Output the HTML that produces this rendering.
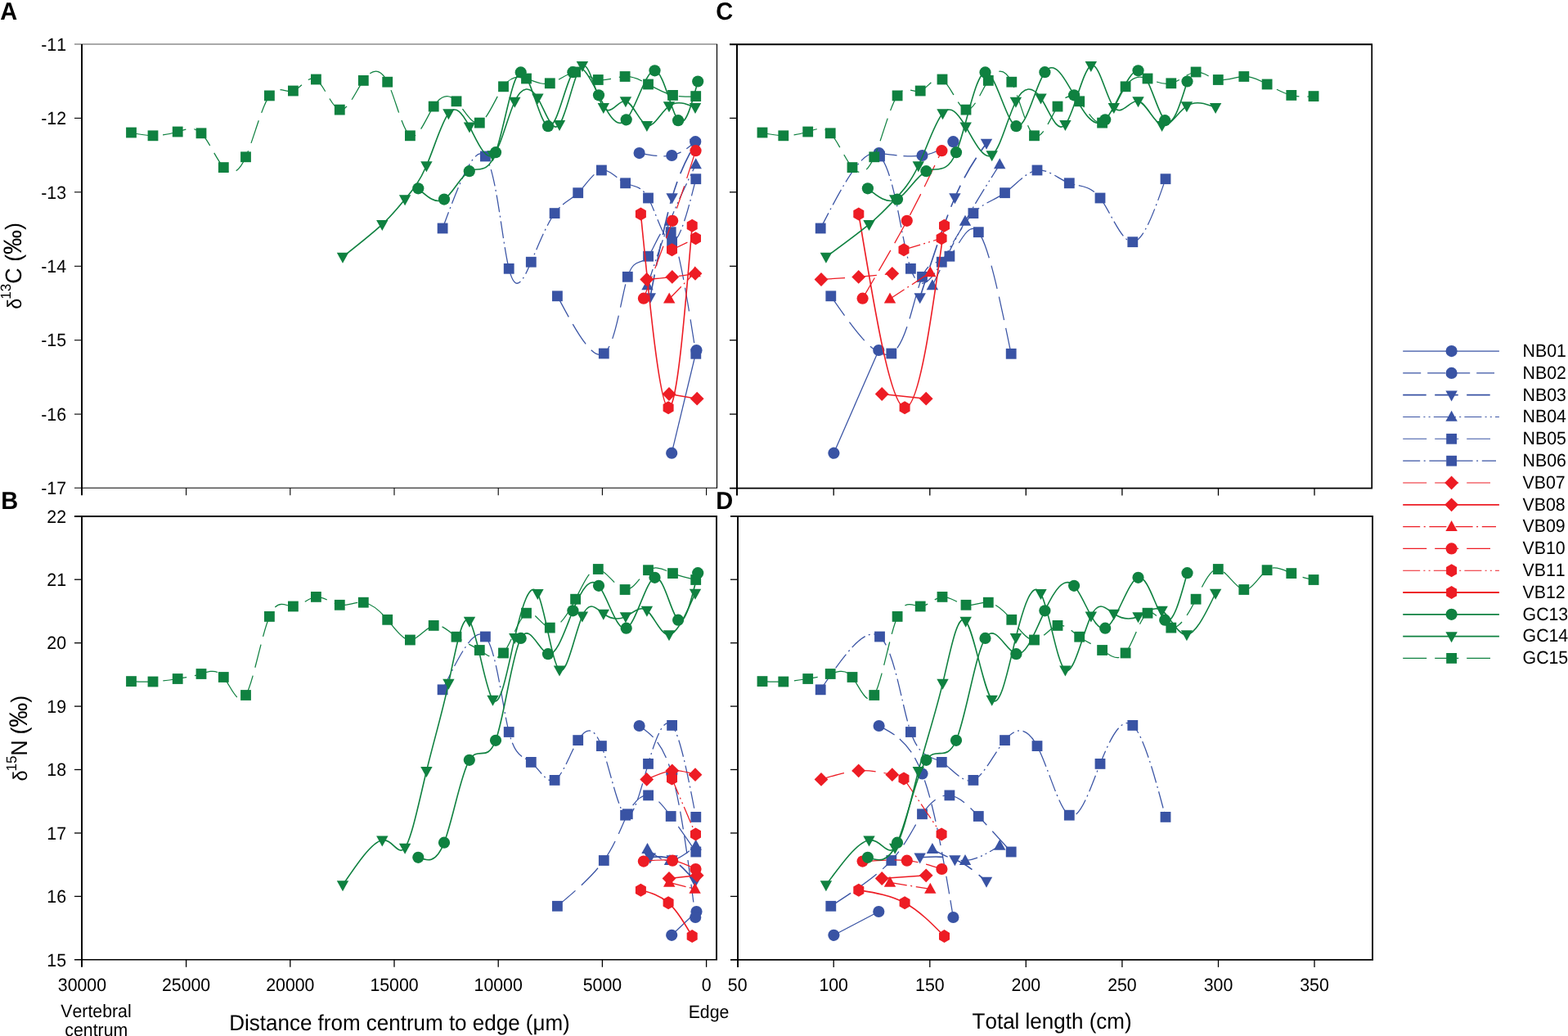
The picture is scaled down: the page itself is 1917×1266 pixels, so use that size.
<!DOCTYPE html>
<html lang="en"><head><meta charset="utf-8"><title>Isotope profiles</title>
<style>html,body{margin:0;padding:0;background:#fff}body{width:1917px;height:1266px;overflow:hidden}svg{display:block}</style></head>
<body>
<svg width="1917" height="1266" viewBox="0 0 1917 1266" font-family='"Liberation Sans", Arial, Helvetica, sans-serif' style="font-kerning:none" text-rendering="geometricPrecision">
<rect width="1917" height="1266" fill="#fff"/>
<g>
<path d="M821.2 553.7L851.5 428" fill="none" stroke="#3953a4" stroke-width="1.25"/>
<g fill="#3953a4"><circle cx="821.2" cy="553.7" r="7.1"/><circle cx="851.5" cy="428" r="7.1"/></g>
<path d="M781.6 187.1C795.7 189.7 809.9 192.3 821.3 190C832.7 187.7 841.5 180.4 850.2 173.2" fill="none" stroke="#3953a4" stroke-width="1.25" stroke-dasharray="22 8"/>
<g fill="#3953a4"><circle cx="781.6" cy="187.1" r="7.1"/><circle cx="821.3" cy="190" r="7.1"/><circle cx="850.2" cy="173.2" r="7.1"/></g>
<path d="M794.8 363.5C803.6 318.2 812.4 272.9 821.6 241.5C830.8 210.1 840.4 192.5 850 175" fill="none" stroke="#3953a4" stroke-width="1.6" stroke-dasharray="28.5 10.5"/>
<g fill="#3953a4"><path d="M787.6 358.2L802 358.2L794.8 371.2Z"/><path d="M814.4 236.2L828.8 236.2L821.6 249.2Z"/><path d="M842.8 169.7L857.2 169.7L850 182.7Z"/></g>
<path d="M791.5 349C800.3 322.1 809.1 295.2 819 270.5C828.9 245.8 839.8 223.4 850.7 201" fill="none" stroke="#3953a4" stroke-width="1.25" stroke-dasharray="21 4.2 2 4.2 2 4.2"/>
<g fill="#3953a4"><path d="M784.3 354.3L798.7 354.3L791.5 341.3Z"/><path d="M811.8 275.8L826.2 275.8L819 262.8Z"/><path d="M843.5 206.3L857.9 206.3L850.7 193.3Z"/></g>
<path d="M681.4 361.8C702.8 401.8 724.1 441.8 738.3 432C752.5 422.2 759.5 362.7 767.3 338.3C775.1 313.9 783.8 324.8 792.6 313.2C801.4 301.6 810.5 267.6 820.2 283.7C829.9 299.8 840.4 366.1 850.8 432.3" fill="none" stroke="#3953a4" stroke-width="1.25" stroke-dasharray="29 10"/>
<g fill="#3953a4"><rect x="675" y="355.4" width="12.8" height="12.8"/><rect x="731.9" y="425.6" width="12.8" height="12.8"/><rect x="760.9" y="331.9" width="12.8" height="12.8"/><rect x="786.2" y="306.8" width="12.8" height="12.8"/><rect x="813.8" y="277.3" width="12.8" height="12.8"/><rect x="844.4" y="425.9" width="12.8" height="12.8"/></g>
<path d="M541.1 279C560.6 226.5 580.1 173.9 593.4 191C606.7 208.1 613.9 294.8 622.2 328.3C630.5 361.8 639.8 342.2 649.3 320.2C658.8 298.2 668.5 273.9 678.1 260.6C687.7 247.3 697.2 245.1 706.7 235.7C716.2 226.3 725.7 209.8 735.4 208C745.1 206.2 755.1 219.1 764.6 223.8C774.1 228.5 783.1 225.1 792.5 242C801.9 258.9 811.8 296.2 821.6 295.7C831.4 295.2 841.1 257 850.8 218.7" fill="none" stroke="#3953a4" stroke-width="1.25" stroke-dasharray="21 4.5 2 4.7"/>
<g fill="#3953a4"><rect x="534.7" y="272.6" width="12.8" height="12.8"/><rect x="587" y="184.6" width="12.8" height="12.8"/><rect x="615.8" y="321.9" width="12.8" height="12.8"/><rect x="642.9" y="313.8" width="12.8" height="12.8"/><rect x="671.7" y="254.2" width="12.8" height="12.8"/><rect x="700.3" y="229.3" width="12.8" height="12.8"/><rect x="729" y="201.6" width="12.8" height="12.8"/><rect x="758.2" y="217.4" width="12.8" height="12.8"/><rect x="786.1" y="235.6" width="12.8" height="12.8"/><rect x="815.2" y="289.3" width="12.8" height="12.8"/><rect x="844.4" y="212.3" width="12.8" height="12.8"/></g>
<path d="M790.7 341.5C801.3 340.6 811.9 339.6 821.8 338.4C831.7 337.2 840.8 335.8 850 334.3" fill="none" stroke="#ed1c24" stroke-width="1.25" stroke-dasharray="29 10"/>
<g fill="#ed1c24"><path d="M790.7 333.1L799.1 341.5L790.7 349.9L782.3 341.5Z"/><path d="M821.8 330L830.2 338.4L821.8 346.8L813.4 338.4Z"/><path d="M850 325.9L858.4 334.3L850 342.7L841.6 334.3Z"/></g>
<path d="M818 481.5L852.2 487.2" fill="none" stroke="#ed1c24" stroke-width="1.6"/>
<g fill="#ed1c24"><path d="M818 473.1L826.4 481.5L818 489.9L809.6 481.5Z"/><path d="M852.2 478.8L860.6 487.2L852.2 495.6L843.8 487.2Z"/></g>
<path d="M818.2 365.3L849.6 333" fill="none" stroke="#ed1c24" stroke-width="1.25" stroke-dasharray="21 4.5 2 4.7"/>
<g fill="#ed1c24"><path d="M811 370.6L825.4 370.6L818.2 357.6Z"/><path d="M842.4 338.3L856.8 338.3L849.6 325.3Z"/></g>
<path d="M786.9 364.7C799.2 332.3 811.6 299.9 822.2 269.8C832.8 239.7 841.6 212 850.5 184.2" fill="none" stroke="#ed1c24" stroke-width="1.25" stroke-dasharray="29 10"/>
<g fill="#ed1c24"><circle cx="786.9" cy="364.7" r="7.1"/><circle cx="822.2" cy="269.8" r="7.1"/><circle cx="850.5" cy="184.2" r="7.1"/></g>
<path d="M821.5 305.2L850.5 291.2" fill="none" stroke="#ed1c24" stroke-width="1.25" stroke-dasharray="21 4.2 2 4.2 2 4.2"/>
<g fill="#ed1c24"><path d="M821.5 297.2L828 301L828 309.4L821.5 313.2L815 309.4L815 301Z"/><path d="M850.5 283.2L857 287L857 295.4L850.5 299.2L844 295.4L844 287Z"/></g>
<path d="M783.4 261.5C795 378.7 806.6 495.9 817.1 498.3C827.6 500.7 836.9 388.2 846.2 275.8" fill="none" stroke="#ed1c24" stroke-width="1.6"/>
<g fill="#ed1c24"><path d="M783.4 253.5L789.9 257.3L789.9 265.7L783.4 269.5L776.9 265.7L776.9 257.3Z"/><path d="M817.1 490.3L823.6 494.1L823.6 502.5L817.1 506.3L810.6 502.5L810.6 494.1Z"/><path d="M846.2 267.8L852.7 271.6L852.7 280L846.2 283.8L839.7 280L839.7 271.6Z"/></g>
<path d="M511.3 230.3C522 240.1 532.7 249.9 543 243.6C553.3 237.3 563.2 214.9 573.8 209.2C584.4 203.5 595.6 214.5 606 186.2C616.4 157.9 626 90.5 636.7 88.4C647.4 86.3 659.3 149.7 670 154.2C680.7 158.7 690.3 104.3 700.4 88.2C710.5 72.1 721.1 94.5 732 116.3C742.9 138.1 754 159.5 765.7 146.3C777.4 133.1 789.7 85.4 800.5 86.3C811.3 87.2 820.6 136.9 829.1 147.2C837.6 157.5 845.4 128.5 853.2 99.5" fill="none" stroke="#0f8140" stroke-width="1.6"/>
<g fill="#0f8140"><circle cx="511.3" cy="230.3" r="7.1"/><circle cx="543" cy="243.6" r="7.1"/><circle cx="573.8" cy="209.2" r="7.1"/><circle cx="606" cy="186.2" r="7.1"/><circle cx="636.7" cy="88.4" r="7.1"/><circle cx="670" cy="154.2" r="7.1"/><circle cx="700.4" cy="88.2" r="7.1"/><circle cx="732" cy="116.3" r="7.1"/><circle cx="765.7" cy="146.3" r="7.1"/><circle cx="800.5" cy="86.3" r="7.1"/><circle cx="829.1" cy="147.2" r="7.1"/><circle cx="853.2" cy="99.5" r="7.1"/></g>
<path d="M419 314C436.9 299.9 454.8 285.9 467.3 274.2C479.8 262.5 487 253.2 495.1 243.5C503.2 233.8 512.3 223.5 521.4 202.5C530.5 181.5 539.8 149.6 548.4 138.6C557 127.6 564.9 137.4 574 154.7C583.1 172 593.2 196.6 602.5 189.5C611.8 182.4 620.2 143.4 629.3 124C638.4 104.6 648.3 104.8 657.4 119.8C666.5 134.8 674.9 164.6 684 152.2C693.1 139.8 702.9 85.3 711.9 80.2C720.9 75.1 729 119.6 737.8 131.2C746.6 142.8 756 121.7 764.9 123.6C773.8 125.5 782.3 150.3 790.9 153.2C799.5 156.1 808.1 136.9 818 129.6C827.9 122.3 838.9 126.7 850 131.2" fill="none" stroke="#0f8140" stroke-width="1.6"/>
<g fill="#0f8140"><path d="M411.8 308.7L426.2 308.7L419 321.7Z"/><path d="M460.1 268.9L474.5 268.9L467.3 281.9Z"/><path d="M487.9 238.2L502.3 238.2L495.1 251.2Z"/><path d="M514.2 197.2L528.6 197.2L521.4 210.2Z"/><path d="M541.2 133.3L555.6 133.3L548.4 146.3Z"/><path d="M566.8 149.4L581.2 149.4L574 162.4Z"/><path d="M595.3 184.2L609.7 184.2L602.5 197.2Z"/><path d="M622.1 118.7L636.5 118.7L629.3 131.7Z"/><path d="M650.2 114.5L664.6 114.5L657.4 127.5Z"/><path d="M676.8 146.9L691.2 146.9L684 159.9Z"/><path d="M704.7 74.9L719.1 74.9L711.9 87.9Z"/><path d="M730.6 125.9L745 125.9L737.8 138.9Z"/><path d="M757.7 118.3L772.1 118.3L764.9 131.3Z"/><path d="M783.7 147.9L798.1 147.9L790.9 160.9Z"/><path d="M810.8 124.3L825.2 124.3L818 137.3Z"/><path d="M842.8 125.9L857.2 125.9L850 138.9Z"/></g>
<path d="M160.5 162C169 163.9 177.5 165.8 187 165.8C196.5 165.8 207.2 164 217.2 161C227.2 158 236.7 153.7 246 162.8C255.3 171.9 264.3 194.4 273.3 204.6C282.3 214.8 291.2 212.7 300.5 191.8C309.8 170.9 319.6 131.1 329.4 116.9C339.2 102.7 349 113.9 358.4 111C367.8 108.1 377 91.1 386.4 97C395.8 102.9 405.6 131.8 415.3 134.1C425 136.4 434.5 112.1 444.3 98.4C454.1 84.7 464.2 81.5 473.7 100.2C483.2 118.9 492 159.4 501.4 165.8C510.8 172.2 520.7 144.6 530.2 130.1C539.7 115.6 548.8 114.3 558 123.8C567.2 133.3 576.6 153.6 586.3 150.1C596 146.6 605.9 119.2 615.5 105.8C625.1 92.4 634.3 93 643.5 96C652.7 99 662 104.3 672.3 101.8C682.6 99.3 694 88.9 703.6 88C713.2 87.1 721.2 95.8 731.3 97.5C741.4 99.2 753.7 93.8 764.1 93.5C774.5 93.2 783 97.8 792.5 103C802 108.2 812.6 113.9 822.5 116.4C832.4 118.9 841.5 118.3 850.7 117.6" fill="none" stroke="#0f8140" stroke-width="1.25" stroke-dasharray="29 10"/>
<g fill="#0f8140"><rect x="154.1" y="155.6" width="12.8" height="12.8"/><rect x="180.6" y="159.4" width="12.8" height="12.8"/><rect x="210.8" y="154.6" width="12.8" height="12.8"/><rect x="239.6" y="156.4" width="12.8" height="12.8"/><rect x="266.9" y="198.2" width="12.8" height="12.8"/><rect x="294.1" y="185.4" width="12.8" height="12.8"/><rect x="323" y="110.5" width="12.8" height="12.8"/><rect x="352" y="104.6" width="12.8" height="12.8"/><rect x="380" y="90.6" width="12.8" height="12.8"/><rect x="408.9" y="127.7" width="12.8" height="12.8"/><rect x="437.9" y="92" width="12.8" height="12.8"/><rect x="467.3" y="93.8" width="12.8" height="12.8"/><rect x="495" y="159.4" width="12.8" height="12.8"/><rect x="523.8" y="123.7" width="12.8" height="12.8"/><rect x="551.6" y="117.4" width="12.8" height="12.8"/><rect x="579.9" y="143.7" width="12.8" height="12.8"/><rect x="609.1" y="99.4" width="12.8" height="12.8"/><rect x="637.1" y="89.6" width="12.8" height="12.8"/><rect x="665.9" y="95.4" width="12.8" height="12.8"/><rect x="697.2" y="81.6" width="12.8" height="12.8"/><rect x="724.9" y="91.1" width="12.8" height="12.8"/><rect x="757.7" y="87.1" width="12.8" height="12.8"/><rect x="786.1" y="96.6" width="12.8" height="12.8"/><rect x="816.1" y="110" width="12.8" height="12.8"/><rect x="844.3" y="111.2" width="12.8" height="12.8"/></g>
</g>
<g>
<path d="M1019.4 553.7L1074.3 428" fill="none" stroke="#3953a4" stroke-width="1.25"/>
<g fill="#3953a4"><circle cx="1019.4" cy="553.7" r="7.1"/><circle cx="1074.3" cy="428" r="7.1"/></g>
<path d="M1074.6 187.1C1093.5 189.7 1112.4 192.3 1127.5 190C1142.6 187.7 1154 180.4 1165.4 173.2" fill="none" stroke="#3953a4" stroke-width="1.25" stroke-dasharray="22 8"/>
<g fill="#3953a4"><circle cx="1074.6" cy="187.1" r="7.1"/><circle cx="1127.5" cy="190" r="7.1"/><circle cx="1165.4" cy="173.2" r="7.1"/></g>
<path d="M1124.7 363.5C1139.3 318.2 1153.9 272.9 1167.4 241.5C1181 210.1 1193.5 192.5 1206 175" fill="none" stroke="#3953a4" stroke-width="1.6" stroke-dasharray="28.5 10.5"/>
<g fill="#3953a4"><path d="M1117.5 358.2L1131.9 358.2L1124.7 371.2Z"/><path d="M1160.2 236.2L1174.6 236.2L1167.4 249.2Z"/><path d="M1198.8 169.7L1213.2 169.7L1206 182.7Z"/></g>
<path d="M1139.9 349C1153.1 322.1 1166.3 295.2 1180 270.5C1193.7 245.8 1208 223.4 1222.2 201" fill="none" stroke="#3953a4" stroke-width="1.25" stroke-dasharray="21 4.2 2 4.2 2 4.2"/>
<g fill="#3953a4"><path d="M1132.7 354.3L1147.1 354.3L1139.9 341.3Z"/><path d="M1172.8 275.8L1187.2 275.8L1180 262.8Z"/><path d="M1215 206.3L1229.4 206.3L1222.2 193.3Z"/></g>
<path d="M1015.8 361.8C1043.6 401.8 1071.4 441.8 1089.8 432C1108.2 422.2 1117.2 362.7 1127.5 338.3C1137.8 313.9 1149.4 324.8 1160.9 313.2C1172.4 301.6 1183.8 267.6 1196.3 283.7C1208.8 299.8 1222.5 366.1 1236.2 432.3" fill="none" stroke="#3953a4" stroke-width="1.25" stroke-dasharray="29 10"/>
<g fill="#3953a4"><rect x="1009.4" y="355.4" width="12.8" height="12.8"/><rect x="1083.4" y="425.6" width="12.8" height="12.8"/><rect x="1121.1" y="331.9" width="12.8" height="12.8"/><rect x="1154.5" y="306.8" width="12.8" height="12.8"/><rect x="1189.9" y="277.3" width="12.8" height="12.8"/><rect x="1229.8" y="425.9" width="12.8" height="12.8"/></g>
<path d="M1003.2 279C1030.4 226.5 1057.5 173.9 1075.5 191C1093.5 208.1 1102.2 294.8 1113.4 328.3C1124.6 361.8 1138.2 342.2 1151.3 320.2C1164.4 298.2 1177.1 273.9 1189.9 260.6C1202.7 247.3 1215.5 245.1 1228.5 235.7C1241.5 226.3 1254.7 209.8 1268 208C1281.3 206.2 1294.6 219.1 1307.3 223.8C1320 228.5 1332.2 225.1 1345 242C1357.8 258.9 1371.4 296.2 1384.8 295.7C1398.2 295.2 1411.6 257 1425 218.7" fill="none" stroke="#3953a4" stroke-width="1.25" stroke-dasharray="21 4.5 2 4.7"/>
<g fill="#3953a4"><rect x="996.8" y="272.6" width="12.8" height="12.8"/><rect x="1069.1" y="184.6" width="12.8" height="12.8"/><rect x="1107" y="321.9" width="12.8" height="12.8"/><rect x="1144.9" y="313.8" width="12.8" height="12.8"/><rect x="1183.5" y="254.2" width="12.8" height="12.8"/><rect x="1222.1" y="229.3" width="12.8" height="12.8"/><rect x="1261.6" y="201.6" width="12.8" height="12.8"/><rect x="1300.9" y="217.4" width="12.8" height="12.8"/><rect x="1338.6" y="235.6" width="12.8" height="12.8"/><rect x="1378.4" y="289.3" width="12.8" height="12.8"/><rect x="1418.6" y="212.3" width="12.8" height="12.8"/></g>
<path d="M1004 341.5C1019.6 340.6 1035.2 339.6 1049.7 338.4C1064.2 337.2 1077.5 335.8 1090.8 334.3" fill="none" stroke="#ed1c24" stroke-width="1.25" stroke-dasharray="29 10"/>
<g fill="#ed1c24"><path d="M1004 333.1L1012.4 341.5L1004 349.9L995.6 341.5Z"/><path d="M1049.7 330L1058.1 338.4L1049.7 346.8L1041.3 338.4Z"/><path d="M1090.8 325.9L1099.2 334.3L1090.8 342.7L1082.4 334.3Z"/></g>
<path d="M1078.2 481.5L1132.2 487.2" fill="none" stroke="#ed1c24" stroke-width="1.6"/>
<g fill="#ed1c24"><path d="M1078.2 473.1L1086.6 481.5L1078.2 489.9L1069.8 481.5Z"/><path d="M1132.2 478.8L1140.6 487.2L1132.2 495.6L1123.8 487.2Z"/></g>
<path d="M1088 365.3L1137.3 333" fill="none" stroke="#ed1c24" stroke-width="1.25" stroke-dasharray="21 4.5 2 4.7"/>
<g fill="#ed1c24"><path d="M1080.8 370.6L1095.2 370.6L1088 357.6Z"/><path d="M1130.1 338.3L1144.5 338.3L1137.3 325.3Z"/></g>
<path d="M1054.6 364.7C1073.6 332.3 1092.7 299.9 1108.8 269.8C1124.9 239.7 1138.2 212 1151.4 184.2" fill="none" stroke="#ed1c24" stroke-width="1.25" stroke-dasharray="29 10"/>
<g fill="#ed1c24"><circle cx="1054.6" cy="364.7" r="7.1"/><circle cx="1108.8" cy="269.8" r="7.1"/><circle cx="1151.4" cy="184.2" r="7.1"/></g>
<path d="M1105 305.2L1151.1 291.2" fill="none" stroke="#ed1c24" stroke-width="1.25" stroke-dasharray="21 4.2 2 4.2 2 4.2"/>
<g fill="#ed1c24"><path d="M1105 297.2L1111.5 301L1111.5 309.4L1105 313.2L1098.5 309.4L1098.5 301Z"/><path d="M1151.1 283.2L1157.6 287L1157.6 295.4L1151.1 299.2L1144.6 295.4L1144.6 287Z"/></g>
<path d="M1049.8 261.5C1069.2 378.7 1088.6 495.9 1106.1 498.3C1123.5 500.7 1139 388.2 1154.5 275.8" fill="none" stroke="#ed1c24" stroke-width="1.6"/>
<g fill="#ed1c24"><path d="M1049.8 253.5L1056.3 257.3L1056.3 265.7L1049.8 269.5L1043.3 265.7L1043.3 257.3Z"/><path d="M1106.1 490.3L1112.6 494.1L1112.6 502.5L1106.1 506.3L1099.6 502.5L1099.6 494.1Z"/><path d="M1154.5 267.8L1161 271.6L1161 280L1154.5 283.8L1148 280L1148 271.6Z"/></g>
<path d="M1060.9 230.3C1073 240.1 1085.2 249.9 1097 243.6C1108.8 237.3 1120.3 214.9 1132.4 209.2C1144.5 203.5 1157.1 214.5 1169 186.2C1180.9 157.9 1192.2 90.5 1204.5 88.4C1216.8 86.3 1230.1 149.7 1242.4 154.2C1254.7 158.7 1265.8 104.3 1277.4 88.2C1289 72.1 1300.9 94.5 1313.1 116.3C1325.3 138.1 1337.8 159.5 1351.2 146.3C1364.6 133.1 1379 85.4 1391.5 86.3C1404 87.2 1414.5 136.9 1424.2 147.2C1433.9 157.5 1442.7 128.5 1451.5 99.5" fill="none" stroke="#0f8140" stroke-width="1.6"/>
<g fill="#0f8140"><circle cx="1060.9" cy="230.3" r="7.1"/><circle cx="1097" cy="243.6" r="7.1"/><circle cx="1132.4" cy="209.2" r="7.1"/><circle cx="1169" cy="186.2" r="7.1"/><circle cx="1204.5" cy="88.4" r="7.1"/><circle cx="1242.4" cy="154.2" r="7.1"/><circle cx="1277.4" cy="88.2" r="7.1"/><circle cx="1313.1" cy="116.3" r="7.1"/><circle cx="1351.2" cy="146.3" r="7.1"/><circle cx="1391.5" cy="86.3" r="7.1"/><circle cx="1424.2" cy="147.2" r="7.1"/><circle cx="1451.5" cy="99.5" r="7.1"/></g>
<path d="M1009.9 314C1029.2 299.9 1048.5 285.9 1062.5 274.2C1076.5 262.5 1085.1 253.2 1094.2 243.5C1103.3 233.8 1112.9 223.5 1122.8 202.5C1132.7 181.5 1143 149.6 1152.5 138.6C1162 127.6 1170.6 137.4 1180.7 154.7C1190.8 172 1202.4 196.6 1212.7 189.5C1223 182.4 1232 143.4 1241.9 124C1251.8 104.6 1262.4 104.8 1272.5 119.8C1282.6 134.8 1292.1 164.6 1302.4 152.2C1312.7 139.8 1323.9 85.3 1333.8 80.2C1343.7 75.1 1352.3 119.6 1361.8 131.2C1371.3 142.8 1381.6 121.7 1391.5 123.6C1401.4 125.5 1411 150.3 1420.6 153.2C1430.2 156.1 1440 136.9 1450.9 129.6C1461.8 122.3 1474 126.7 1486.1 131.2" fill="none" stroke="#0f8140" stroke-width="1.6"/>
<g fill="#0f8140"><path d="M1002.7 308.7L1017.1 308.7L1009.9 321.7Z"/><path d="M1055.3 268.9L1069.7 268.9L1062.5 281.9Z"/><path d="M1087 238.2L1101.4 238.2L1094.2 251.2Z"/><path d="M1115.6 197.2L1130 197.2L1122.8 210.2Z"/><path d="M1145.3 133.3L1159.7 133.3L1152.5 146.3Z"/><path d="M1173.5 149.4L1187.9 149.4L1180.7 162.4Z"/><path d="M1205.5 184.2L1219.9 184.2L1212.7 197.2Z"/><path d="M1234.7 118.7L1249.1 118.7L1241.9 131.7Z"/><path d="M1265.3 114.5L1279.7 114.5L1272.5 127.5Z"/><path d="M1295.2 146.9L1309.6 146.9L1302.4 159.9Z"/><path d="M1326.6 74.9L1341 74.9L1333.8 87.9Z"/><path d="M1354.6 125.9L1369 125.9L1361.8 138.9Z"/><path d="M1384.3 118.3L1398.7 118.3L1391.5 131.3Z"/><path d="M1413.4 147.9L1427.8 147.9L1420.6 160.9Z"/><path d="M1443.7 124.3L1458.1 124.3L1450.9 137.3Z"/><path d="M1478.9 125.9L1493.3 125.9L1486.1 138.9Z"/></g>
<path d="M932 162C940.2 163.9 948.4 165.8 957.8 165.8C967.2 165.8 977.9 164 987.7 161C997.5 158 1006.3 153.7 1015.2 162.8C1024.1 171.9 1033.1 194.4 1042 204.6C1050.9 214.8 1059.6 212.7 1068.8 191.8C1078 170.9 1087.5 131.1 1097.1 116.9C1106.7 102.7 1116.2 113.9 1125.2 111C1134.2 108.1 1142.7 91.1 1152 97C1161.3 102.9 1171.6 131.8 1181 134.1C1190.4 136.4 1199.1 112.1 1208.3 98.4C1217.5 84.7 1227.4 81.5 1236.8 100.2C1246.2 118.9 1255.1 159.4 1264.5 165.8C1273.9 172.2 1283.8 144.6 1293 130.1C1302.2 115.6 1310.7 114.3 1319.7 123.8C1328.7 133.3 1338 153.6 1347.6 150.1C1357.2 146.6 1366.9 119.2 1376.1 105.8C1385.3 92.4 1393.9 93 1403 96C1412.1 99 1421.6 104.3 1431.8 101.8C1442 99.3 1452.7 88.9 1462.1 88C1471.5 87.1 1479.5 95.8 1489.3 97.5C1499.1 99.2 1510.7 93.8 1520.8 93.5C1530.9 93.2 1539.5 97.8 1549.1 103C1558.7 108.2 1569.2 113.9 1578.8 116.4C1588.4 118.9 1597.2 118.3 1606 117.6" fill="none" stroke="#0f8140" stroke-width="1.25" stroke-dasharray="29 10"/>
<g fill="#0f8140"><rect x="925.6" y="155.6" width="12.8" height="12.8"/><rect x="951.4" y="159.4" width="12.8" height="12.8"/><rect x="981.3" y="154.6" width="12.8" height="12.8"/><rect x="1008.8" y="156.4" width="12.8" height="12.8"/><rect x="1035.6" y="198.2" width="12.8" height="12.8"/><rect x="1062.4" y="185.4" width="12.8" height="12.8"/><rect x="1090.7" y="110.5" width="12.8" height="12.8"/><rect x="1118.8" y="104.6" width="12.8" height="12.8"/><rect x="1145.6" y="90.6" width="12.8" height="12.8"/><rect x="1174.6" y="127.7" width="12.8" height="12.8"/><rect x="1201.9" y="92" width="12.8" height="12.8"/><rect x="1230.4" y="93.8" width="12.8" height="12.8"/><rect x="1258.1" y="159.4" width="12.8" height="12.8"/><rect x="1286.6" y="123.7" width="12.8" height="12.8"/><rect x="1313.3" y="117.4" width="12.8" height="12.8"/><rect x="1341.2" y="143.7" width="12.8" height="12.8"/><rect x="1369.7" y="99.4" width="12.8" height="12.8"/><rect x="1396.6" y="89.6" width="12.8" height="12.8"/><rect x="1425.4" y="95.4" width="12.8" height="12.8"/><rect x="1455.7" y="81.6" width="12.8" height="12.8"/><rect x="1482.9" y="91.1" width="12.8" height="12.8"/><rect x="1514.4" y="87.1" width="12.8" height="12.8"/><rect x="1542.7" y="96.6" width="12.8" height="12.8"/><rect x="1572.4" y="110" width="12.8" height="12.8"/><rect x="1599.6" y="111.2" width="12.8" height="12.8"/></g>
</g>
<g>
<path d="M821.2 1142.8L851.5 1114" fill="none" stroke="#3953a4" stroke-width="1.25"/>
<g fill="#3953a4"><circle cx="821.2" cy="1142.8" r="7.1"/><circle cx="851.5" cy="1114" r="7.1"/></g>
<path d="M781.6 887C795.7 896.8 809.9 906.5 821.3 945.5C832.7 984.5 841.5 1052.8 850.2 1121" fill="none" stroke="#3953a4" stroke-width="1.25" stroke-dasharray="22 8"/>
<g fill="#3953a4"><circle cx="781.6" cy="887" r="7.1"/><circle cx="821.3" cy="945.5" r="7.1"/><circle cx="850.2" cy="1121" r="7.1"/></g>
<path d="M794.8 1047.8C803.6 1046.7 812.4 1045.6 821.6 1050.5C830.8 1055.4 840.4 1066.2 850 1077" fill="none" stroke="#3953a4" stroke-width="1.6" stroke-dasharray="28.5 10.5"/>
<g fill="#3953a4"><path d="M787.6 1042.5L802 1042.5L794.8 1055.5Z"/><path d="M814.4 1045.2L828.8 1045.2L821.6 1058.2Z"/><path d="M842.8 1071.7L857.2 1071.7L850 1084.7Z"/></g>
<path d="M791.5 1037.6C800.3 1044.9 809.1 1052.3 819 1051.6C828.9 1050.9 839.8 1042.2 850.7 1033.5" fill="none" stroke="#3953a4" stroke-width="1.25" stroke-dasharray="21 4.2 2 4.2 2 4.2"/>
<g fill="#3953a4"><path d="M784.3 1042.9L798.7 1042.9L791.5 1029.9Z"/><path d="M811.8 1056.9L826.2 1056.9L819 1043.9Z"/><path d="M843.5 1038.8L857.9 1038.8L850.7 1025.8Z"/></g>
<path d="M681.4 1107.3C702.8 1089.3 724.1 1071.3 738.3 1051.5C752.5 1031.7 759.5 1010 767.3 994.8C775.1 979.6 783.8 970.7 792.6 971.9C801.4 973.1 810.5 984.3 820.2 997.5C829.9 1010.7 840.4 1025.8 850.8 1041" fill="none" stroke="#3953a4" stroke-width="1.25" stroke-dasharray="29 10"/>
<g fill="#3953a4"><rect x="675" y="1100.9" width="12.8" height="12.8"/><rect x="731.9" y="1045.1" width="12.8" height="12.8"/><rect x="760.9" y="988.4" width="12.8" height="12.8"/><rect x="786.2" y="965.5" width="12.8" height="12.8"/><rect x="813.8" y="991.1" width="12.8" height="12.8"/><rect x="844.4" y="1034.6" width="12.8" height="12.8"/></g>
<path d="M541.1 842.8C560.6 803.1 580.1 763.3 593.4 778C606.7 792.7 613.9 861.7 622.2 894.5C630.5 927.3 639.8 923.7 649.3 931.4C658.8 939.1 668.5 958.2 678.1 953.4C687.7 948.6 697.2 920.1 706.7 904.6C716.2 889.1 725.7 886.6 735.4 911.6C745.1 936.6 755.1 988.9 764.6 996.2C774.1 1003.5 783.1 965.6 792.5 933.4C801.9 901.2 811.8 874.6 821.6 886.4C831.4 898.2 841.1 948.3 850.8 998.4" fill="none" stroke="#3953a4" stroke-width="1.25" stroke-dasharray="21 4.5 2 4.7"/>
<g fill="#3953a4"><rect x="534.7" y="836.4" width="12.8" height="12.8"/><rect x="587" y="771.6" width="12.8" height="12.8"/><rect x="615.8" y="888.1" width="12.8" height="12.8"/><rect x="642.9" y="925" width="12.8" height="12.8"/><rect x="671.7" y="947" width="12.8" height="12.8"/><rect x="700.3" y="898.2" width="12.8" height="12.8"/><rect x="729" y="905.2" width="12.8" height="12.8"/><rect x="758.2" y="989.8" width="12.8" height="12.8"/><rect x="786.1" y="927" width="12.8" height="12.8"/><rect x="815.2" y="880" width="12.8" height="12.8"/><rect x="844.4" y="992" width="12.8" height="12.8"/></g>
<path d="M790.7 952.4C801.3 947.6 811.9 942.8 821.8 941.8C831.7 940.8 840.8 943.8 850 946.7" fill="none" stroke="#ed1c24" stroke-width="1.25" stroke-dasharray="29 10"/>
<g fill="#ed1c24"><path d="M790.7 944L799.1 952.4L790.7 960.8L782.3 952.4Z"/><path d="M821.8 933.4L830.2 941.8L821.8 950.2L813.4 941.8Z"/><path d="M850 938.3L858.4 946.7L850 955.1L841.6 946.7Z"/></g>
<path d="M818 1073.5L852.2 1069.8" fill="none" stroke="#ed1c24" stroke-width="1.6"/>
<g fill="#ed1c24"><path d="M818 1065.1L826.4 1073.5L818 1081.9L809.6 1073.5Z"/><path d="M852.2 1061.4L860.6 1069.8L852.2 1078.2L843.8 1069.8Z"/></g>
<path d="M818.2 1078.4L849.6 1086.4" fill="none" stroke="#ed1c24" stroke-width="1.25" stroke-dasharray="21 4.5 2 4.7"/>
<g fill="#ed1c24"><path d="M811 1083.7L825.4 1083.7L818.2 1070.7Z"/><path d="M842.4 1091.7L856.8 1091.7L849.6 1078.7Z"/></g>
<path d="M786.9 1052.6C799.2 1051.4 811.6 1050.1 822.2 1051.7C832.8 1053.3 841.6 1057.6 850.5 1062" fill="none" stroke="#ed1c24" stroke-width="1.25" stroke-dasharray="29 10"/>
<g fill="#ed1c24"><circle cx="786.9" cy="1052.6" r="7.1"/><circle cx="822.2" cy="1051.7" r="7.1"/><circle cx="850.5" cy="1062" r="7.1"/></g>
<path d="M821.5 951.5L850.5 1019.4" fill="none" stroke="#ed1c24" stroke-width="1.25" stroke-dasharray="21 4.2 2 4.2 2 4.2"/>
<g fill="#ed1c24"><path d="M821.5 943.5L828 947.3L828 955.7L821.5 959.5L815 955.7L815 947.3Z"/><path d="M850.5 1011.4L857 1015.2L857 1023.6L850.5 1027.4L844 1023.6L844 1015.2Z"/></g>
<path d="M783.4 1087.7C795 1090.8 806.6 1093.8 817.1 1103.2C827.6 1112.6 836.9 1128.3 846.2 1144.1" fill="none" stroke="#ed1c24" stroke-width="1.6"/>
<g fill="#ed1c24"><path d="M783.4 1079.7L789.9 1083.5L789.9 1091.9L783.4 1095.7L776.9 1091.9L776.9 1083.5Z"/><path d="M817.1 1095.2L823.6 1099L823.6 1107.4L817.1 1111.2L810.6 1107.4L810.6 1099Z"/><path d="M846.2 1136.1L852.7 1139.9L852.7 1148.3L846.2 1152.1L839.7 1148.3L839.7 1139.9Z"/></g>
<path d="M511.3 1047.8C522 1051.9 532.7 1056.1 543 1029.7C553.3 1003.3 563.2 946.5 573.8 928.8C584.4 911.1 595.6 932.6 606 904.8C616.4 877 626 800.1 636.7 779.9C647.4 759.7 659.3 796.4 670 799.2C680.7 802 690.3 771 700.4 746.3C710.5 721.6 721.1 703 732 715.8C742.9 728.6 754 772.6 765.7 767.7C777.4 762.8 789.7 709 800.5 705.8C811.3 702.6 820.6 750.2 829.1 757.7C837.6 765.2 845.4 732.7 853.2 700.2" fill="none" stroke="#0f8140" stroke-width="1.6"/>
<g fill="#0f8140"><circle cx="511.3" cy="1047.8" r="7.1"/><circle cx="543" cy="1029.7" r="7.1"/><circle cx="573.8" cy="928.8" r="7.1"/><circle cx="606" cy="904.8" r="7.1"/><circle cx="636.7" cy="779.9" r="7.1"/><circle cx="670" cy="799.2" r="7.1"/><circle cx="700.4" cy="746.3" r="7.1"/><circle cx="732" cy="715.8" r="7.1"/><circle cx="765.7" cy="767.7" r="7.1"/><circle cx="800.5" cy="705.8" r="7.1"/><circle cx="829.1" cy="757.7" r="7.1"/><circle cx="853.2" cy="700.2" r="7.1"/></g>
<path d="M419 1081.5C436.9 1055.1 454.8 1028.7 467.3 1026.7C479.8 1024.7 487 1047.2 495.1 1036C503.2 1024.8 512.3 979.9 521.4 942.3C530.5 904.7 539.8 874.5 548.4 835.1C557 795.7 564.9 747.2 574 759C583.1 770.8 593.2 842.9 602.5 855C611.8 867.1 620.2 819.3 629.3 779.4C638.4 739.5 648.3 707.5 657.4 725.4C666.5 743.3 674.9 811.2 684 818.7C693.1 826.2 702.9 773.5 711.9 752.8C720.9 732.1 729 743.6 737.8 750C746.6 756.4 756 757.8 764.9 753.5C773.8 749.2 782.3 739.2 790.9 746C799.5 752.8 808.1 776.3 818 775.6C827.9 774.9 838.9 749.9 850 725" fill="none" stroke="#0f8140" stroke-width="1.6"/>
<g fill="#0f8140"><path d="M411.8 1076.2L426.2 1076.2L419 1089.2Z"/><path d="M460.1 1021.4L474.5 1021.4L467.3 1034.4Z"/><path d="M487.9 1030.7L502.3 1030.7L495.1 1043.7Z"/><path d="M514.2 937L528.6 937L521.4 950Z"/><path d="M541.2 829.8L555.6 829.8L548.4 842.8Z"/><path d="M566.8 753.7L581.2 753.7L574 766.7Z"/><path d="M595.3 849.7L609.7 849.7L602.5 862.7Z"/><path d="M622.1 774.1L636.5 774.1L629.3 787.1Z"/><path d="M650.2 720.1L664.6 720.1L657.4 733.1Z"/><path d="M676.8 813.4L691.2 813.4L684 826.4Z"/><path d="M704.7 747.5L719.1 747.5L711.9 760.5Z"/><path d="M730.6 744.7L745 744.7L737.8 757.7Z"/><path d="M757.7 748.2L772.1 748.2L764.9 761.2Z"/><path d="M783.7 740.7L798.1 740.7L790.9 753.7Z"/><path d="M810.8 770.3L825.2 770.3L818 783.3Z"/><path d="M842.8 719.7L857.2 719.7L850 732.7Z"/></g>
<path d="M160.5 832.6C169 833.1 177.5 833.5 187 833C196.5 832.5 207.2 831 217.2 829.5C227.2 828 236.7 826.4 246 823.5C255.3 820.6 264.3 816.4 273.3 827.5C282.3 838.6 291.2 865 300.5 849.5C309.8 834 319.6 776.7 329.4 753.4C339.2 730.1 349 741 358.4 741C367.8 741 377 730.2 386.4 729.4C395.8 728.6 405.6 737.7 415.3 739.3C425 740.9 434.5 734.9 444.3 736.2C454.1 737.5 464.2 746.1 473.7 757.3C483.2 768.5 492 782.4 501.4 782C510.8 781.6 520.7 766.9 530.2 764.4C539.7 761.9 548.8 771.6 558 778.2C567.2 784.8 576.6 788.3 586.3 794.5C596 800.7 605.9 809.6 615.5 798C625.1 786.4 634.3 754.5 643.5 749.2C652.7 743.9 662 765.4 672.3 767.1C682.6 768.8 694 750.9 703.6 732.2C713.2 713.5 721.2 694.1 731.3 695.5C741.4 696.9 753.7 718.9 764.1 720.5C774.5 722.1 783 703.1 792.5 696.7C802 690.3 812.6 696.5 822.5 700.6C832.4 704.7 841.5 706.6 850.7 708.5" fill="none" stroke="#0f8140" stroke-width="1.25" stroke-dasharray="29 10"/>
<g fill="#0f8140"><rect x="154.1" y="826.2" width="12.8" height="12.8"/><rect x="180.6" y="826.6" width="12.8" height="12.8"/><rect x="210.8" y="823.1" width="12.8" height="12.8"/><rect x="239.6" y="817.1" width="12.8" height="12.8"/><rect x="266.9" y="821.1" width="12.8" height="12.8"/><rect x="294.1" y="843.1" width="12.8" height="12.8"/><rect x="323" y="747" width="12.8" height="12.8"/><rect x="352" y="734.6" width="12.8" height="12.8"/><rect x="380" y="723" width="12.8" height="12.8"/><rect x="408.9" y="732.9" width="12.8" height="12.8"/><rect x="437.9" y="729.8" width="12.8" height="12.8"/><rect x="467.3" y="750.9" width="12.8" height="12.8"/><rect x="495" y="775.6" width="12.8" height="12.8"/><rect x="523.8" y="758" width="12.8" height="12.8"/><rect x="551.6" y="771.8" width="12.8" height="12.8"/><rect x="579.9" y="788.1" width="12.8" height="12.8"/><rect x="609.1" y="791.6" width="12.8" height="12.8"/><rect x="637.1" y="742.8" width="12.8" height="12.8"/><rect x="665.9" y="760.7" width="12.8" height="12.8"/><rect x="697.2" y="725.8" width="12.8" height="12.8"/><rect x="724.9" y="689.1" width="12.8" height="12.8"/><rect x="757.7" y="714.1" width="12.8" height="12.8"/><rect x="786.1" y="690.3" width="12.8" height="12.8"/><rect x="816.1" y="694.2" width="12.8" height="12.8"/><rect x="844.3" y="702.1" width="12.8" height="12.8"/></g>
</g>
<g>
<path d="M1019.4 1142.8L1074.3 1114" fill="none" stroke="#3953a4" stroke-width="1.25"/>
<g fill="#3953a4"><circle cx="1019.4" cy="1142.8" r="7.1"/><circle cx="1074.3" cy="1114" r="7.1"/></g>
<path d="M1074.6 887C1093.5 896.8 1112.4 906.5 1127.5 945.5C1142.6 984.5 1154 1052.8 1165.4 1121" fill="none" stroke="#3953a4" stroke-width="1.25" stroke-dasharray="22 8"/>
<g fill="#3953a4"><circle cx="1074.6" cy="887" r="7.1"/><circle cx="1127.5" cy="945.5" r="7.1"/><circle cx="1165.4" cy="1121" r="7.1"/></g>
<path d="M1124.7 1047.8C1139.3 1046.7 1153.9 1045.6 1167.4 1050.5C1181 1055.4 1193.5 1066.2 1206 1077" fill="none" stroke="#3953a4" stroke-width="1.6" stroke-dasharray="28.5 10.5"/>
<g fill="#3953a4"><path d="M1117.5 1042.5L1131.9 1042.5L1124.7 1055.5Z"/><path d="M1160.2 1045.2L1174.6 1045.2L1167.4 1058.2Z"/><path d="M1198.8 1071.7L1213.2 1071.7L1206 1084.7Z"/></g>
<path d="M1139.9 1037.6C1153.1 1044.9 1166.3 1052.3 1180 1051.6C1193.7 1050.9 1208 1042.2 1222.2 1033.5" fill="none" stroke="#3953a4" stroke-width="1.25" stroke-dasharray="21 4.2 2 4.2 2 4.2"/>
<g fill="#3953a4"><path d="M1132.7 1042.9L1147.1 1042.9L1139.9 1029.9Z"/><path d="M1172.8 1056.9L1187.2 1056.9L1180 1043.9Z"/><path d="M1215 1038.8L1229.4 1038.8L1222.2 1025.8Z"/></g>
<path d="M1015.8 1107.3C1043.6 1089.3 1071.4 1071.3 1089.8 1051.5C1108.2 1031.7 1117.2 1010 1127.5 994.8C1137.8 979.6 1149.4 970.7 1160.9 971.9C1172.4 973.1 1183.8 984.3 1196.3 997.5C1208.8 1010.7 1222.5 1025.8 1236.2 1041" fill="none" stroke="#3953a4" stroke-width="1.25" stroke-dasharray="29 10"/>
<g fill="#3953a4"><rect x="1009.4" y="1100.9" width="12.8" height="12.8"/><rect x="1083.4" y="1045.1" width="12.8" height="12.8"/><rect x="1121.1" y="988.4" width="12.8" height="12.8"/><rect x="1154.5" y="965.5" width="12.8" height="12.8"/><rect x="1189.9" y="991.1" width="12.8" height="12.8"/><rect x="1229.8" y="1034.6" width="12.8" height="12.8"/></g>
<path d="M1003.2 842.8C1030.4 803.1 1057.5 763.3 1075.5 778C1093.5 792.7 1102.2 861.7 1113.4 894.5C1124.6 927.3 1138.2 923.7 1151.3 931.4C1164.4 939.1 1177.1 958.2 1189.9 953.4C1202.7 948.6 1215.5 920.1 1228.5 904.6C1241.5 889.1 1254.7 886.6 1268 911.6C1281.3 936.6 1294.6 988.9 1307.3 996.2C1320 1003.5 1332.2 965.6 1345 933.4C1357.8 901.2 1371.4 874.6 1384.8 886.4C1398.2 898.2 1411.6 948.3 1425 998.4" fill="none" stroke="#3953a4" stroke-width="1.25" stroke-dasharray="21 4.5 2 4.7"/>
<g fill="#3953a4"><rect x="996.8" y="836.4" width="12.8" height="12.8"/><rect x="1069.1" y="771.6" width="12.8" height="12.8"/><rect x="1107" y="888.1" width="12.8" height="12.8"/><rect x="1144.9" y="925" width="12.8" height="12.8"/><rect x="1183.5" y="947" width="12.8" height="12.8"/><rect x="1222.1" y="898.2" width="12.8" height="12.8"/><rect x="1261.6" y="905.2" width="12.8" height="12.8"/><rect x="1300.9" y="989.8" width="12.8" height="12.8"/><rect x="1338.6" y="927" width="12.8" height="12.8"/><rect x="1378.4" y="880" width="12.8" height="12.8"/><rect x="1418.6" y="992" width="12.8" height="12.8"/></g>
<path d="M1004 952.4C1019.6 947.6 1035.2 942.8 1049.7 941.8C1064.2 940.8 1077.5 943.8 1090.8 946.7" fill="none" stroke="#ed1c24" stroke-width="1.25" stroke-dasharray="29 10"/>
<g fill="#ed1c24"><path d="M1004 944L1012.4 952.4L1004 960.8L995.6 952.4Z"/><path d="M1049.7 933.4L1058.1 941.8L1049.7 950.2L1041.3 941.8Z"/><path d="M1090.8 938.3L1099.2 946.7L1090.8 955.1L1082.4 946.7Z"/></g>
<path d="M1078.2 1073.5L1132.2 1069.8" fill="none" stroke="#ed1c24" stroke-width="1.6"/>
<g fill="#ed1c24"><path d="M1078.2 1065.1L1086.6 1073.5L1078.2 1081.9L1069.8 1073.5Z"/><path d="M1132.2 1061.4L1140.6 1069.8L1132.2 1078.2L1123.8 1069.8Z"/></g>
<path d="M1088 1078.4L1137.3 1086.4" fill="none" stroke="#ed1c24" stroke-width="1.25" stroke-dasharray="21 4.5 2 4.7"/>
<g fill="#ed1c24"><path d="M1080.8 1083.7L1095.2 1083.7L1088 1070.7Z"/><path d="M1130.1 1091.7L1144.5 1091.7L1137.3 1078.7Z"/></g>
<path d="M1054.6 1052.6C1073.6 1051.4 1092.7 1050.1 1108.8 1051.7C1124.9 1053.3 1138.2 1057.6 1151.4 1062" fill="none" stroke="#ed1c24" stroke-width="1.25" stroke-dasharray="29 10"/>
<g fill="#ed1c24"><circle cx="1054.6" cy="1052.6" r="7.1"/><circle cx="1108.8" cy="1051.7" r="7.1"/><circle cx="1151.4" cy="1062" r="7.1"/></g>
<path d="M1105 951.5L1151.1 1019.4" fill="none" stroke="#ed1c24" stroke-width="1.25" stroke-dasharray="21 4.2 2 4.2 2 4.2"/>
<g fill="#ed1c24"><path d="M1105 943.5L1111.5 947.3L1111.5 955.7L1105 959.5L1098.5 955.7L1098.5 947.3Z"/><path d="M1151.1 1011.4L1157.6 1015.2L1157.6 1023.6L1151.1 1027.4L1144.6 1023.6L1144.6 1015.2Z"/></g>
<path d="M1049.8 1087.7C1069.2 1090.8 1088.6 1093.8 1106.1 1103.2C1123.5 1112.6 1139 1128.3 1154.5 1144.1" fill="none" stroke="#ed1c24" stroke-width="1.6"/>
<g fill="#ed1c24"><path d="M1049.8 1079.7L1056.3 1083.5L1056.3 1091.9L1049.8 1095.7L1043.3 1091.9L1043.3 1083.5Z"/><path d="M1106.1 1095.2L1112.6 1099L1112.6 1107.4L1106.1 1111.2L1099.6 1107.4L1099.6 1099Z"/><path d="M1154.5 1136.1L1161 1139.9L1161 1148.3L1154.5 1152.1L1148 1148.3L1148 1139.9Z"/></g>
<path d="M1060.9 1047.8C1073 1051.9 1085.2 1056.1 1097 1029.7C1108.8 1003.3 1120.3 946.5 1132.4 928.8C1144.5 911.1 1157.1 932.6 1169 904.8C1180.9 877 1192.2 800.1 1204.5 779.9C1216.8 759.7 1230.1 796.4 1242.4 799.2C1254.7 802 1265.8 771 1277.4 746.3C1289 721.6 1300.9 703 1313.1 715.8C1325.3 728.6 1337.8 772.6 1351.2 767.7C1364.6 762.8 1379 709 1391.5 705.8C1404 702.6 1414.5 750.2 1424.2 757.7C1433.9 765.2 1442.7 732.7 1451.5 700.2" fill="none" stroke="#0f8140" stroke-width="1.6"/>
<g fill="#0f8140"><circle cx="1060.9" cy="1047.8" r="7.1"/><circle cx="1097" cy="1029.7" r="7.1"/><circle cx="1132.4" cy="928.8" r="7.1"/><circle cx="1169" cy="904.8" r="7.1"/><circle cx="1204.5" cy="779.9" r="7.1"/><circle cx="1242.4" cy="799.2" r="7.1"/><circle cx="1277.4" cy="746.3" r="7.1"/><circle cx="1313.1" cy="715.8" r="7.1"/><circle cx="1351.2" cy="767.7" r="7.1"/><circle cx="1391.5" cy="705.8" r="7.1"/><circle cx="1424.2" cy="757.7" r="7.1"/><circle cx="1451.5" cy="700.2" r="7.1"/></g>
<path d="M1009.9 1081.5C1029.2 1055.1 1048.5 1028.7 1062.5 1026.7C1076.5 1024.7 1085.1 1047.2 1094.2 1036C1103.3 1024.8 1112.9 979.9 1122.8 942.3C1132.7 904.7 1143 874.5 1152.5 835.1C1162 795.7 1170.6 747.2 1180.7 759C1190.8 770.8 1202.4 842.9 1212.7 855C1223 867.1 1232 819.3 1241.9 779.4C1251.8 739.5 1262.4 707.5 1272.5 725.4C1282.6 743.3 1292.1 811.2 1302.4 818.7C1312.7 826.2 1323.9 773.5 1333.8 752.8C1343.7 732.1 1352.3 743.6 1361.8 750C1371.3 756.4 1381.6 757.8 1391.5 753.5C1401.4 749.2 1411 739.2 1420.6 746C1430.2 752.8 1440 776.3 1450.9 775.6C1461.8 774.9 1474 749.9 1486.1 725" fill="none" stroke="#0f8140" stroke-width="1.6"/>
<g fill="#0f8140"><path d="M1002.7 1076.2L1017.1 1076.2L1009.9 1089.2Z"/><path d="M1055.3 1021.4L1069.7 1021.4L1062.5 1034.4Z"/><path d="M1087 1030.7L1101.4 1030.7L1094.2 1043.7Z"/><path d="M1115.6 937L1130 937L1122.8 950Z"/><path d="M1145.3 829.8L1159.7 829.8L1152.5 842.8Z"/><path d="M1173.5 753.7L1187.9 753.7L1180.7 766.7Z"/><path d="M1205.5 849.7L1219.9 849.7L1212.7 862.7Z"/><path d="M1234.7 774.1L1249.1 774.1L1241.9 787.1Z"/><path d="M1265.3 720.1L1279.7 720.1L1272.5 733.1Z"/><path d="M1295.2 813.4L1309.6 813.4L1302.4 826.4Z"/><path d="M1326.6 747.5L1341 747.5L1333.8 760.5Z"/><path d="M1354.6 744.7L1369 744.7L1361.8 757.7Z"/><path d="M1384.3 748.2L1398.7 748.2L1391.5 761.2Z"/><path d="M1413.4 740.7L1427.8 740.7L1420.6 753.7Z"/><path d="M1443.7 770.3L1458.1 770.3L1450.9 783.3Z"/><path d="M1478.9 719.7L1493.3 719.7L1486.1 732.7Z"/></g>
<path d="M932 832.6C940.2 833.1 948.4 833.5 957.8 833C967.2 832.5 977.9 831 987.7 829.5C997.5 828 1006.3 826.4 1015.2 823.5C1024.1 820.6 1033.1 816.4 1042 827.5C1050.9 838.6 1059.6 865 1068.8 849.5C1078 834 1087.5 776.7 1097.1 753.4C1106.7 730.1 1116.2 741 1125.2 741C1134.2 741 1142.7 730.2 1152 729.4C1161.3 728.6 1171.6 737.7 1181 739.3C1190.4 740.9 1199.1 734.9 1208.3 736.2C1217.5 737.5 1227.4 746.1 1236.8 757.3C1246.2 768.5 1255.1 782.4 1264.5 782C1273.9 781.6 1283.8 766.9 1293 764.4C1302.2 761.9 1310.7 771.6 1319.7 778.2C1328.7 784.8 1338 788.3 1347.6 794.5C1357.2 800.7 1366.9 809.6 1376.1 798C1385.3 786.4 1393.9 754.5 1403 749.2C1412.1 743.9 1421.6 765.4 1431.8 767.1C1442 768.8 1452.7 750.9 1462.1 732.2C1471.5 713.5 1479.5 694.1 1489.3 695.5C1499.1 696.9 1510.7 718.9 1520.8 720.5C1530.9 722.1 1539.5 703.1 1549.1 696.7C1558.7 690.3 1569.2 696.5 1578.8 700.6C1588.4 704.7 1597.2 706.6 1606 708.5" fill="none" stroke="#0f8140" stroke-width="1.25" stroke-dasharray="29 10"/>
<g fill="#0f8140"><rect x="925.6" y="826.2" width="12.8" height="12.8"/><rect x="951.4" y="826.6" width="12.8" height="12.8"/><rect x="981.3" y="823.1" width="12.8" height="12.8"/><rect x="1008.8" y="817.1" width="12.8" height="12.8"/><rect x="1035.6" y="821.1" width="12.8" height="12.8"/><rect x="1062.4" y="843.1" width="12.8" height="12.8"/><rect x="1090.7" y="747" width="12.8" height="12.8"/><rect x="1118.8" y="734.6" width="12.8" height="12.8"/><rect x="1145.6" y="723" width="12.8" height="12.8"/><rect x="1174.6" y="732.9" width="12.8" height="12.8"/><rect x="1201.9" y="729.8" width="12.8" height="12.8"/><rect x="1230.4" y="750.9" width="12.8" height="12.8"/><rect x="1258.1" y="775.6" width="12.8" height="12.8"/><rect x="1286.6" y="758" width="12.8" height="12.8"/><rect x="1313.3" y="771.8" width="12.8" height="12.8"/><rect x="1341.2" y="788.1" width="12.8" height="12.8"/><rect x="1369.7" y="791.6" width="12.8" height="12.8"/><rect x="1396.6" y="742.8" width="12.8" height="12.8"/><rect x="1425.4" y="760.7" width="12.8" height="12.8"/><rect x="1455.7" y="725.8" width="12.8" height="12.8"/><rect x="1482.9" y="689.1" width="12.8" height="12.8"/><rect x="1514.4" y="714.1" width="12.8" height="12.8"/><rect x="1542.7" y="690.3" width="12.8" height="12.8"/><rect x="1572.4" y="694.2" width="12.8" height="12.8"/><rect x="1599.6" y="702.1" width="12.8" height="12.8"/></g>
</g>
<g><line x1="91" y1="54" x2="877.1" y2="54" stroke="#555" stroke-width="1.1"/><line x1="876.5" y1="54" x2="876.5" y2="596.2" stroke="#000" stroke-width="1.2"/><line x1="91" y1="596.2" x2="877.1" y2="596.2" stroke="#000" stroke-width="1.1"/><line x1="100" y1="54" x2="100" y2="605.2" stroke="#000" stroke-width="2"/><line x1="227.6" y1="596.2" x2="227.6" y2="605.2" stroke="#000" stroke-width="1.1"/><line x1="354.8" y1="596.2" x2="354.8" y2="605.2" stroke="#000" stroke-width="1.1"/><line x1="482" y1="596.2" x2="482" y2="605.2" stroke="#000" stroke-width="1.1"/><line x1="609.2" y1="596.2" x2="609.2" y2="605.2" stroke="#000" stroke-width="1.1"/><line x1="736.4" y1="596.2" x2="736.4" y2="605.2" stroke="#000" stroke-width="1.1"/><line x1="863.6" y1="596.2" x2="863.6" y2="605.2" stroke="#000" stroke-width="1.1"/><line x1="91" y1="144.4" x2="100" y2="144.4" stroke="#000" stroke-width="1.1"/><line x1="91" y1="234.8" x2="100" y2="234.8" stroke="#000" stroke-width="1.1"/><line x1="91" y1="325.3" x2="100" y2="325.3" stroke="#000" stroke-width="1.1"/><line x1="91" y1="415.7" x2="100" y2="415.7" stroke="#000" stroke-width="1.1"/><line x1="91" y1="506.1" x2="100" y2="506.1" stroke="#000" stroke-width="1.1"/></g>
<g><line x1="892" y1="54.2" x2="1678" y2="54.2" stroke="#000" stroke-width="1.9"/><line x1="1677.2" y1="54.2" x2="1677.2" y2="596.6" stroke="#000" stroke-width="1.7"/><line x1="892" y1="596.6" x2="1678" y2="596.6" stroke="#000" stroke-width="1.8"/><line x1="901" y1="54.2" x2="901" y2="605.6" stroke="#000" stroke-width="2"/><line x1="1019.2" y1="596.6" x2="1019.2" y2="605.6" stroke="#000" stroke-width="1.3"/><line x1="1136.8" y1="596.6" x2="1136.8" y2="605.6" stroke="#000" stroke-width="1.3"/><line x1="1254.3" y1="596.6" x2="1254.3" y2="605.6" stroke="#000" stroke-width="1.3"/><line x1="1371.9" y1="596.6" x2="1371.9" y2="605.6" stroke="#000" stroke-width="1.3"/><line x1="1489.5" y1="596.6" x2="1489.5" y2="605.6" stroke="#000" stroke-width="1.3"/><line x1="1607" y1="596.6" x2="1607" y2="605.6" stroke="#000" stroke-width="1.3"/><line x1="892" y1="144.4" x2="901" y2="144.4" stroke="#000" stroke-width="1.3"/><line x1="892" y1="234.8" x2="901" y2="234.8" stroke="#000" stroke-width="1.3"/><line x1="892" y1="325.3" x2="901" y2="325.3" stroke="#000" stroke-width="1.3"/><line x1="892" y1="415.7" x2="901" y2="415.7" stroke="#000" stroke-width="1.3"/><line x1="892" y1="506.1" x2="901" y2="506.1" stroke="#000" stroke-width="1.3"/></g>
<g><line x1="91" y1="631" x2="877" y2="631" stroke="#000" stroke-width="1.8"/><line x1="876" y1="631" x2="876" y2="1172.8" stroke="#000" stroke-width="2"/><line x1="91" y1="1172.8" x2="877" y2="1172.8" stroke="#000" stroke-width="1.6"/><line x1="100" y1="631" x2="100" y2="1181.8" stroke="#000" stroke-width="2"/><line x1="227.6" y1="1172.8" x2="227.6" y2="1181.8" stroke="#000" stroke-width="1.3"/><line x1="354.8" y1="1172.8" x2="354.8" y2="1181.8" stroke="#000" stroke-width="1.3"/><line x1="482" y1="1172.8" x2="482" y2="1181.8" stroke="#000" stroke-width="1.3"/><line x1="609.2" y1="1172.8" x2="609.2" y2="1181.8" stroke="#000" stroke-width="1.3"/><line x1="736.4" y1="1172.8" x2="736.4" y2="1181.8" stroke="#000" stroke-width="1.3"/><line x1="863.6" y1="1172.8" x2="863.6" y2="1181.8" stroke="#000" stroke-width="1.3"/><line x1="91" y1="708.2" x2="100" y2="708.2" stroke="#000" stroke-width="1.3"/><line x1="91" y1="785.7" x2="100" y2="785.7" stroke="#000" stroke-width="1.3"/><line x1="91" y1="863.1" x2="100" y2="863.1" stroke="#000" stroke-width="1.3"/><line x1="91" y1="940.5" x2="100" y2="940.5" stroke="#000" stroke-width="1.3"/><line x1="91" y1="1018" x2="100" y2="1018" stroke="#000" stroke-width="1.3"/><line x1="91" y1="1095.4" x2="100" y2="1095.4" stroke="#000" stroke-width="1.3"/></g>
<g><line x1="893" y1="630.9" x2="1679" y2="630.9" stroke="#000" stroke-width="1.9"/><line x1="1678" y1="630.9" x2="1678" y2="1172.9" stroke="#000" stroke-width="1.9"/><line x1="893" y1="1172.9" x2="1679" y2="1172.9" stroke="#000" stroke-width="1.7"/><line x1="902" y1="630.9" x2="902" y2="1181.9" stroke="#000" stroke-width="2"/><line x1="1019.2" y1="1172.9" x2="1019.2" y2="1181.9" stroke="#000" stroke-width="1.3"/><line x1="1136.8" y1="1172.9" x2="1136.8" y2="1181.9" stroke="#000" stroke-width="1.3"/><line x1="1254.3" y1="1172.9" x2="1254.3" y2="1181.9" stroke="#000" stroke-width="1.3"/><line x1="1371.9" y1="1172.9" x2="1371.9" y2="1181.9" stroke="#000" stroke-width="1.3"/><line x1="1489.5" y1="1172.9" x2="1489.5" y2="1181.9" stroke="#000" stroke-width="1.3"/><line x1="1607" y1="1172.9" x2="1607" y2="1181.9" stroke="#000" stroke-width="1.3"/><line x1="893" y1="708.2" x2="902" y2="708.2" stroke="#000" stroke-width="1.3"/><line x1="893" y1="785.7" x2="902" y2="785.7" stroke="#000" stroke-width="1.3"/><line x1="893" y1="863.1" x2="902" y2="863.1" stroke="#000" stroke-width="1.3"/><line x1="893" y1="940.5" x2="902" y2="940.5" stroke="#000" stroke-width="1.3"/><line x1="893" y1="1018" x2="902" y2="1018" stroke="#000" stroke-width="1.3"/><line x1="893" y1="1095.4" x2="902" y2="1095.4" stroke="#000" stroke-width="1.3"/></g>
<g fill="#000">
<text transform="translate(81 61.7) scale(0.9615 1)" font-size="22.15" text-anchor="end">-11</text>
<text transform="translate(81 152.1) scale(0.9615 1)" font-size="22.15" text-anchor="end">-12</text>
<text transform="translate(81 242.5) scale(0.9615 1)" font-size="22.15" text-anchor="end">-13</text>
<text transform="translate(81 333) scale(0.9615 1)" font-size="22.15" text-anchor="end">-14</text>
<text transform="translate(81 423.4) scale(0.9615 1)" font-size="22.15" text-anchor="end">-15</text>
<text transform="translate(81 513.8) scale(0.9615 1)" font-size="22.15" text-anchor="end">-16</text>
<text transform="translate(81 604.2) scale(0.9615 1)" font-size="22.15" text-anchor="end">-17</text>
<text transform="translate(81 638.5) scale(0.9615 1)" font-size="22.15" text-anchor="end">22</text>
<text transform="translate(81 715.9) scale(0.9615 1)" font-size="22.15" text-anchor="end">21</text>
<text transform="translate(81 793.4) scale(0.9615 1)" font-size="22.15" text-anchor="end">20</text>
<text transform="translate(81 870.8) scale(0.9615 1)" font-size="22.15" text-anchor="end">19</text>
<text transform="translate(81 948.2) scale(0.9615 1)" font-size="22.15" text-anchor="end">18</text>
<text transform="translate(81 1025.7) scale(0.9615 1)" font-size="22.15" text-anchor="end">17</text>
<text transform="translate(81 1103.1) scale(0.9615 1)" font-size="22.15" text-anchor="end">16</text>
<text transform="translate(81 1180.5) scale(0.9615 1)" font-size="22.15" text-anchor="end">15</text>
<text transform="translate(100.4 1210.6) scale(0.9615 1)" font-size="22.15" text-anchor="middle">30000</text>
<text transform="translate(227.6 1210.6) scale(0.9615 1)" font-size="22.15" text-anchor="middle">25000</text>
<text transform="translate(354.8 1210.6) scale(0.9615 1)" font-size="22.15" text-anchor="middle">20000</text>
<text transform="translate(482 1210.6) scale(0.9615 1)" font-size="22.15" text-anchor="middle">15000</text>
<text transform="translate(609.2 1210.6) scale(0.9615 1)" font-size="22.15" text-anchor="middle">10000</text>
<text transform="translate(736.4 1210.6) scale(0.9615 1)" font-size="22.15" text-anchor="middle">5000</text>
<text transform="translate(863.6 1210.6) scale(0.9615 1)" font-size="22.15" text-anchor="middle">0</text>
<text transform="translate(901.7 1210.6) scale(0.9615 1)" font-size="22.15" text-anchor="middle">50</text>
<text transform="translate(1019.2 1210.6) scale(0.9615 1)" font-size="22.15" text-anchor="middle">100</text>
<text transform="translate(1136.8 1210.6) scale(0.9615 1)" font-size="22.15" text-anchor="middle">150</text>
<text transform="translate(1254.3 1210.6) scale(0.9615 1)" font-size="22.15" text-anchor="middle">200</text>
<text transform="translate(1371.9 1210.6) scale(0.9615 1)" font-size="22.15" text-anchor="middle">250</text>
<text transform="translate(1489.5 1210.6) scale(0.9615 1)" font-size="22.15" text-anchor="middle">300</text>
<text transform="translate(1607 1210.6) scale(0.9615 1)" font-size="22.15" text-anchor="middle">350</text>
<text transform="translate(117.5 1242.7) scale(0.9615 1)" font-size="22.15" text-anchor="middle">Vertebral</text>
<text transform="translate(117.8 1265.8) scale(0.9615 1)" font-size="22.15" text-anchor="middle">centrum</text>
<text transform="translate(866.5 1244) scale(0.9615 1)" font-size="22.15" text-anchor="middle">Edge</text>
<text transform="translate(488.5 1259.3) scale(0.9615 1)" font-size="27.04" text-anchor="middle">Distance from centrum to edge (μm)</text>
<text transform="translate(1286.1 1257.3) scale(0.9615 1)" font-size="27.04" text-anchor="middle">Total length (cm)</text>
<text transform="translate(26.2 377.8) rotate(-90) scale(0.9615 1)" font-size="27.87"><tspan font-size="24.44">δ</tspan><tspan font-size="17.68" x="12.5" dy="-13.5">13</tspan><tspan x="32.4" dy="13.5">C</tspan><tspan x="60.3">(</tspan><tspan font-size="31.20">‰</tspan>)</text>
<text transform="translate(33 954.6) rotate(-90) scale(0.9615 1)" font-size="27.87"><tspan font-size="24.44">δ</tspan><tspan font-size="17.68" x="12.7" dy="-13.5">15</tspan><tspan x="32.1" dy="13.5">N</tspan><tspan x="59.3">(</tspan><tspan font-size="31.20">‰</tspan>)</text>
<text transform="translate(0.3 24) scale(0.9615 1)" font-size="30.16" font-weight="bold">A</text><text transform="translate(1.2 622) scale(0.9615 1)" font-size="30.16" font-weight="bold">B</text><text transform="translate(875.2 24.2) scale(0.9615 1)" font-size="30.16" font-weight="bold">C</text><text transform="translate(875.2 622.2) scale(0.9615 1)" font-size="30.16" font-weight="bold">D</text>
</g>
<g>
<line x1="1715.2" y1="429.1" x2="1832.9" y2="429.1" stroke="#3953a4" stroke-width="1.1"/>
<g fill="#3953a4"><circle cx="1774.6" cy="429.1" r="7.1"/></g>
<text transform="translate(1861.6 435.9) scale(0.9615 1)" font-size="22.15">NB01</text>
<line x1="1715.2" y1="455.9" x2="1827" y2="455.9" stroke="#3953a4" stroke-width="1.1" stroke-dasharray="22 8"/>
<g fill="#3953a4"><circle cx="1774.6" cy="455.9" r="7.1"/></g>
<text transform="translate(1861.6 462.7) scale(0.9615 1)" font-size="22.15">NB02</text>
<line x1="1715.2" y1="482.7" x2="1822" y2="482.7" stroke="#3953a4" stroke-width="1.8" stroke-dasharray="28.5 10.5"/>
<g fill="#3953a4"><path d="M1767.4 477.4L1781.8 477.4L1774.6 490.4Z"/></g>
<text transform="translate(1861.6 489.5) scale(0.9615 1)" font-size="22.15">NB03</text>
<line x1="1715.2" y1="509.5" x2="1832.9" y2="509.5" stroke="#3953a4" stroke-width="1.1" stroke-dasharray="21 4.2 2 4.2 2 4.2"/>
<g fill="#3953a4"><path d="M1767.4 514.8L1781.8 514.8L1774.6 501.8Z"/></g>
<text transform="translate(1861.6 516.3) scale(0.9615 1)" font-size="22.15">NB04</text>
<line x1="1715.2" y1="536.3" x2="1822" y2="536.3" stroke="#3953a4" stroke-width="1.1" stroke-dasharray="29 10"/>
<g fill="#3953a4"><rect x="1768.2" y="529.9" width="12.8" height="12.8"/></g>
<text transform="translate(1861.6 543.1) scale(0.9615 1)" font-size="22.15">NB05</text>
<line x1="1715.2" y1="563.1" x2="1829" y2="563.1" stroke="#3953a4" stroke-width="1.1" stroke-dasharray="21 4.5 2 4.7"/>
<g fill="#3953a4"><rect x="1768.2" y="556.8" width="12.8" height="12.8"/></g>
<text transform="translate(1861.6 569.9) scale(0.9615 1)" font-size="22.15">NB06</text>
<line x1="1715.2" y1="590" x2="1822" y2="590" stroke="#ed1c24" stroke-width="1.1" stroke-dasharray="29 10"/>
<g fill="#ed1c24"><path d="M1774.6 581.6L1783 590L1774.6 598.4L1766.2 590Z"/></g>
<text transform="translate(1861.6 596.8) scale(0.9615 1)" font-size="22.15">VB07</text>
<line x1="1715.2" y1="616.8" x2="1832.9" y2="616.8" stroke="#ed1c24" stroke-width="1.8"/>
<g fill="#ed1c24"><path d="M1774.6 608.4L1783 616.8L1774.6 625.2L1766.2 616.8Z"/></g>
<text transform="translate(1861.6 623.6) scale(0.9615 1)" font-size="22.15">VB08</text>
<line x1="1715.2" y1="643.6" x2="1829" y2="643.6" stroke="#ed1c24" stroke-width="1.1" stroke-dasharray="21 4.5 2 4.7"/>
<g fill="#ed1c24"><path d="M1767.4 648.9L1781.8 648.9L1774.6 635.9Z"/></g>
<text transform="translate(1861.6 650.4) scale(0.9615 1)" font-size="22.15">VB09</text>
<line x1="1715.2" y1="670.4" x2="1822" y2="670.4" stroke="#ed1c24" stroke-width="1.1" stroke-dasharray="29 10"/>
<g fill="#ed1c24"><circle cx="1774.6" cy="670.4" r="7.1"/></g>
<text transform="translate(1861.6 677.2) scale(0.9615 1)" font-size="22.15">VB10</text>
<line x1="1715.2" y1="697.2" x2="1832.9" y2="697.2" stroke="#ed1c24" stroke-width="1.1" stroke-dasharray="21 4.2 2 4.2 2 4.2"/>
<g fill="#ed1c24"><path d="M1774.6 689.2L1781.1 693L1781.1 701.4L1774.6 705.2L1768.1 701.4L1768.1 693Z"/></g>
<text transform="translate(1861.6 704) scale(0.9615 1)" font-size="22.15">VB11</text>
<line x1="1715.2" y1="724" x2="1832.9" y2="724" stroke="#ed1c24" stroke-width="1.8"/>
<g fill="#ed1c24"><path d="M1774.6 716L1781.1 719.8L1781.1 728.2L1774.6 732L1768.1 728.2L1768.1 719.8Z"/></g>
<text transform="translate(1861.6 730.8) scale(0.9615 1)" font-size="22.15">VB12</text>
<line x1="1715.2" y1="750.8" x2="1832.9" y2="750.8" stroke="#0f8140" stroke-width="1.8"/>
<g fill="#0f8140"><circle cx="1774.6" cy="750.8" r="7.1"/></g>
<text transform="translate(1861.6 757.6) scale(0.9615 1)" font-size="22.15">GC13</text>
<line x1="1715.2" y1="777.6" x2="1832.9" y2="777.6" stroke="#0f8140" stroke-width="1.8"/>
<g fill="#0f8140"><path d="M1767.4 772.3L1781.8 772.3L1774.6 785.3Z"/></g>
<text transform="translate(1861.6 784.4) scale(0.9615 1)" font-size="22.15">GC14</text>
<line x1="1715.2" y1="804.4" x2="1822" y2="804.4" stroke="#0f8140" stroke-width="1.1" stroke-dasharray="29 10"/>
<g fill="#0f8140"><rect x="1768.2" y="798" width="12.8" height="12.8"/></g>
<text transform="translate(1861.6 811.2) scale(0.9615 1)" font-size="22.15">GC15</text>
</g>
</svg>
</body></html>
